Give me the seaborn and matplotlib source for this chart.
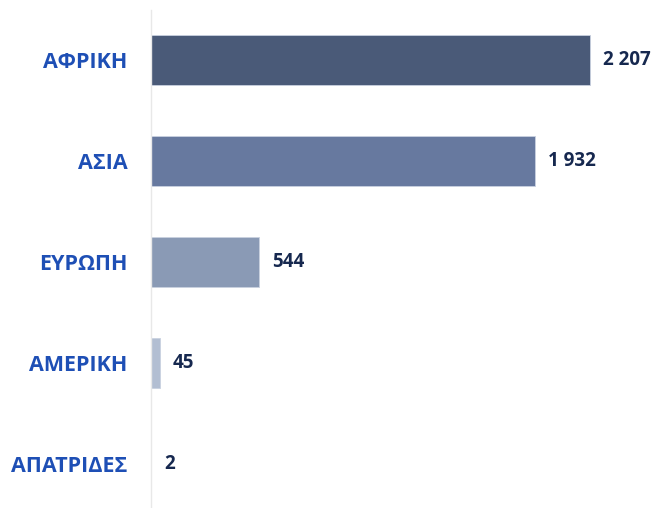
import matplotlib.pyplot as plt
import numpy as np
import pandas as pd
import seaborn as sns

regions = ["ΑΦΡΙΚΗ", "ΑΣΙΑ", "ΕΥΡΩΠΗ", "ΑΜΕΡΙΚΗ", "ΑΠΑΤΡΙΔΕΣ"]
counts = [2207, 1932, 544, 45, 2]
bar_colors = ["#4a5a78", "#67799f", "#8a9ab5", "#b2bed2", "#d5dce8"]

sns.set_theme(style="white")
plt.rcParams["font.family"] = ["Open Sans", "DejaVu Sans"]

df = pd.DataFrame({"region": regions, "count": counts})

fig = plt.figure(figsize=(6.72, 5.08), dpi=100)
# bottom slot runs a bit past the lower edge, as in the source image
ax = fig.add_axes([0.2247, -6.5 / 508, 0.77, 505 / 508])

sns.barplot(data=df, x="count", y="region", hue="region", palette=bar_colors,
            order=regions, width=0.5, saturation=1, legend=False,
            edgecolor="#c9d1e0", linewidth=0.6, ax=ax)

for i, v in enumerate(counts):
    ax.text(v + 65, i, f"{v:,}".replace(",", " "), va="center", ha="left",
            fontsize=13.5, fontweight="bold", color="#16284f")

ax.set_xlim(0, 2600)
ax.set_ylim(4.5, -0.5)
ax.set_xlabel("")
ax.set_ylabel("")
ax.set_xticks([])
for s in ["top", "right", "bottom"]:
    ax.spines[s].set_visible(False)
ax.spines["left"].set_color("#e8e8e8")
ax.spines["left"].set_linewidth(1)

ax.tick_params(axis="y", which="major", length=0, pad=17)
ax.set_yticks(np.arange(-0.5, 5, 1), minor=True)
ax.tick_params(axis="y", which="minor", length=8, color="#e6e6e6", width=1, direction="out")
for lbl in ax.get_yticklabels():
    lbl.set_fontsize(15.5)
    lbl.set_fontweight("bold")
    lbl.set_color("#1e4fb5")

fig.savefig("out.png", dpi=100)
